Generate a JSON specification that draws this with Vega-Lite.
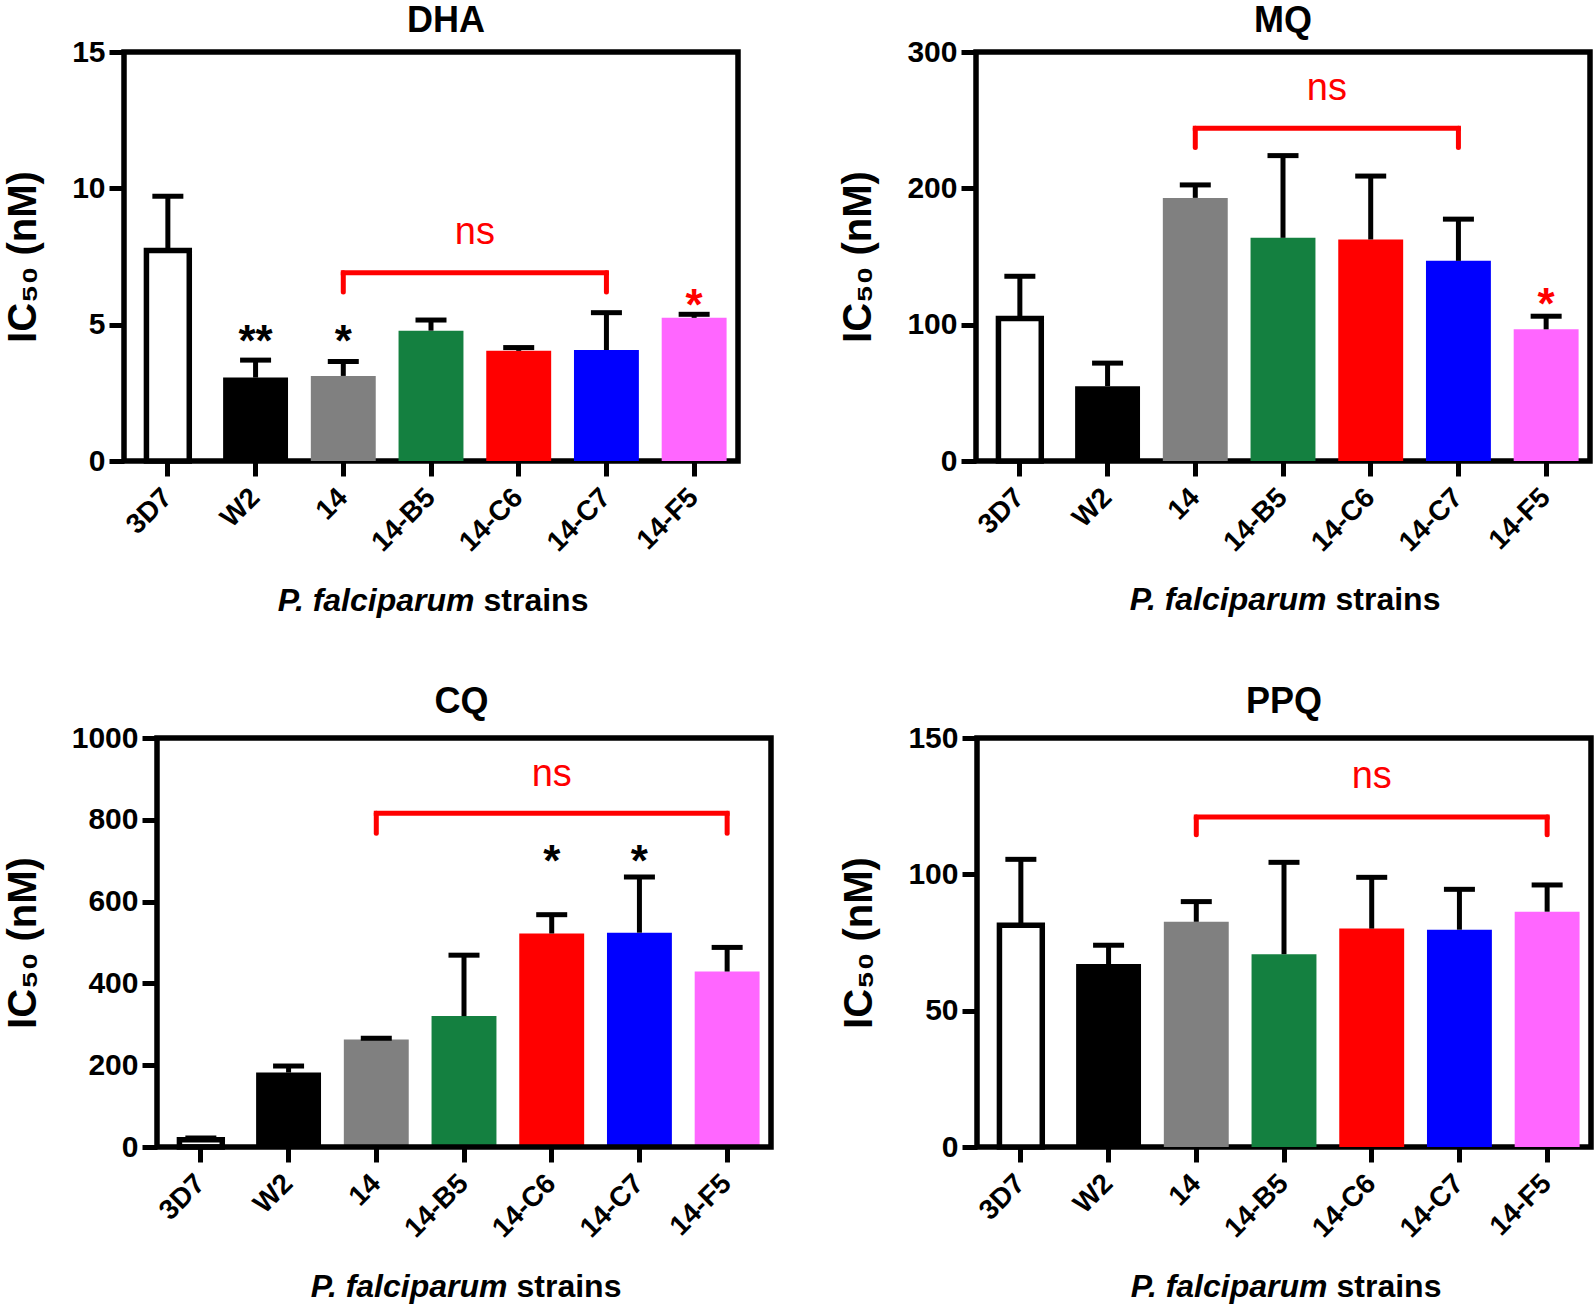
{
  "$schema": "https://vega.github.io/schema/vega-lite/v6.json",
  "background": "white",
  "padding": {"left": 0, "top": 0, "right": 0, "bottom": 0},
  "datasets": {
    "ic50": [
      {"drug": "DHA", "strain": "3D7", "mean": 7.72, "upper": 9.71},
      {"drug": "DHA", "strain": "W2", "mean": 3.06, "upper": 3.70},
      {"drug": "DHA", "strain": "14", "mean": 3.12, "upper": 3.65},
      {"drug": "DHA", "strain": "14-B5", "mean": 4.78, "upper": 5.17},
      {"drug": "DHA", "strain": "14-C6", "mean": 4.04, "upper": 4.16},
      {"drug": "DHA", "strain": "14-C7", "mean": 4.07, "upper": 5.44},
      {"drug": "DHA", "strain": "14-F5", "mean": 5.25, "upper": 5.38},
      {"drug": "MQ", "strain": "3D7", "mean": 104.6, "upper": 135.5},
      {"drug": "MQ", "strain": "W2", "mean": 54.9, "upper": 71.8},
      {"drug": "MQ", "strain": "14", "mean": 193, "upper": 202.5},
      {"drug": "MQ", "strain": "14-B5", "mean": 163.7, "upper": 224},
      {"drug": "MQ", "strain": "14-C6", "mean": 162.5, "upper": 209},
      {"drug": "MQ", "strain": "14-C7", "mean": 146.8, "upper": 177.4},
      {"drug": "MQ", "strain": "14-F5", "mean": 96.6, "upper": 106.2},
      {"drug": "CQ", "strain": "3D7", "mean": 18, "upper": 22},
      {"drug": "CQ", "strain": "W2", "mean": 182, "upper": 198},
      {"drug": "CQ", "strain": "14", "mean": 263, "upper": 266},
      {"drug": "CQ", "strain": "14-B5", "mean": 320, "upper": 469},
      {"drug": "CQ", "strain": "14-C6", "mean": 522, "upper": 568},
      {"drug": "CQ", "strain": "14-C7", "mean": 524, "upper": 660},
      {"drug": "CQ", "strain": "14-F5", "mean": 429, "upper": 488},
      {"drug": "PPQ", "strain": "3D7", "mean": 81.3, "upper": 105.5},
      {"drug": "PPQ", "strain": "W2", "mean": 67.1, "upper": 74},
      {"drug": "PPQ", "strain": "14", "mean": 82.6, "upper": 90},
      {"drug": "PPQ", "strain": "14-B5", "mean": 70.7, "upper": 104.4},
      {"drug": "PPQ", "strain": "14-C6", "mean": 80.1, "upper": 98.9},
      {"drug": "PPQ", "strain": "14-C7", "mean": 79.7, "upper": 94.5},
      {"drug": "PPQ", "strain": "14-F5", "mean": 86.3, "upper": 96.1}
    ],
    "brackets": [
      {"drug": "DHA", "from": "14", "to": "14-C7", "top": 6.9, "bottom": 6.2},
      {"drug": "MQ", "from": "14", "to": "14-C7", "top": 244, "bottom": 230},
      {"drug": "CQ", "from": "14", "to": "14-F5", "top": 816, "bottom": 767},
      {"drug": "PPQ", "from": "14", "to": "14-F5", "top": 121, "bottom": 114.5}
    ],
    "ns": [
      {"drug": "DHA", "strain": "14-B5", "y": 8.35, "label": "ns"},
      {"drug": "MQ", "strain": "14-B5", "y": 273, "label": "ns"},
      {"drug": "CQ", "strain": "14-C6", "y": 909, "label": "ns"},
      {"drug": "PPQ", "strain": "14-C6", "y": 135.8, "label": "ns"}
    ],
    "stars": [
      {"drug": "DHA", "strain": "W2", "y": 4.77, "label": "**", "comparison": "vs 3D7"},
      {"drug": "DHA", "strain": "14", "y": 4.77, "label": "*", "comparison": "vs 3D7"},
      {"drug": "DHA", "strain": "14-F5", "y": 6.09, "label": "*", "comparison": "vs 14"},
      {"drug": "MQ", "strain": "14-F5", "y": 122.6, "label": "*", "comparison": "vs 14"},
      {"drug": "CQ", "strain": "14-C6", "y": 723, "label": "*", "comparison": "vs 3D7"},
      {"drug": "CQ", "strain": "14-C7", "y": 723, "label": "*", "comparison": "vs 3D7"}
    ],
    "xtitles": [
      {"drug": "DHA", "strain": "14-B5", "y": -5.12, "species": "P. falciparum", "word": "strains"},
      {"drug": "MQ", "strain": "14-B5", "y": -102.3, "species": "P. falciparum", "word": "strains"},
      {"drug": "CQ", "strain": "14-B5", "y": -341.1, "species": "P. falciparum", "word": "strains"},
      {"drug": "PPQ", "strain": "14-B5", "y": -51.2, "species": "P. falciparum", "word": "strains"}
    ]
  },
  "spacing": 61,
  "vconcat": [
    {
      "bounds": "full",
      "spacing": 95,
      "hconcat": [
        {
          "width": 614, "height": 409,
          "title": {"text": "DHA", "dx": 15},
          "layer": [
            {"data": {"name": "ic50"}, "transform": [{"filter": "datum.drug === 'DHA' && datum.strain !== '3D7'"}],
             "mark": {"type": "bar"},
             "encoding": {
               "x": {"field": "strain", "type": "nominal", "scale": {"domain": ["3D7", "W2", "14", "14-B5", "14-C6", "14-C7", "14-F5"], "paddingInner": 0.26, "paddingOuter": 0.13}, "axis": {"title": null}},
               "y": {"field": "mean", "type": "quantitative", "scale": {"domain": [0, 15], "nice": false}, "axis": {"values": [0, 5, 10, 15], "format": "d", "title": "IC₅₀ (nM)"}},
               "color": {"field": "strain", "type": "nominal", "scale": {"domain": ["3D7", "W2", "14", "14-B5", "14-C6", "14-C7", "14-F5"], "range": ["#ffffff", "#000000", "#808080", "#148040", "#ff0000", "#0000ff", "#ff66ff"]}, "legend": null}
             }},
            {"data": {"name": "ic50"}, "transform": [{"filter": "datum.drug === 'DHA' && datum.strain === '3D7'"}],
             "mark": {"type": "bar", "fill": "white", "stroke": "black", "strokeWidth": 5.5, "width": {"band": 0.66}},
             "encoding": {"x": {"field": "strain", "type": "nominal"}, "y": {"field": "mean", "type": "quantitative"}}},
            {"data": {"name": "ic50"}, "transform": [{"filter": "datum.drug === 'DHA'"}],
             "mark": {"type": "rule", "color": "black", "strokeWidth": 5},
             "encoding": {"x": {"field": "strain", "type": "nominal"}, "y": {"field": "mean", "type": "quantitative"}, "y2": {"field": "upper"}}},
            {"data": {"name": "ic50"}, "transform": [{"filter": "datum.drug === 'DHA'"}],
             "mark": {"type": "tick", "color": "black", "size": 31, "thickness": 5, "opacity": 1},
             "encoding": {"x": {"field": "strain", "type": "nominal"}, "y": {"field": "upper", "type": "quantitative"}}},
            {"data": {"name": "brackets"}, "transform": [{"filter": "datum.drug === 'DHA'"}],
             "mark": {"type": "rule", "color": "#ff0000", "strokeWidth": 5, "strokeCap": "square"},
             "encoding": {"x": {"field": "from", "type": "nominal"}, "x2": {"field": "to"}, "y": {"field": "top", "type": "quantitative"}}},
            {"data": {"name": "brackets"}, "transform": [{"filter": "datum.drug === 'DHA'"}],
             "mark": {"type": "rule", "color": "#ff0000", "strokeWidth": 5, "strokeCap": "round"},
             "encoding": {"x": {"field": "from", "type": "nominal"}, "y": {"field": "top", "type": "quantitative"}, "y2": {"field": "bottom"}}},
            {"data": {"name": "brackets"}, "transform": [{"filter": "datum.drug === 'DHA'"}],
             "mark": {"type": "rule", "color": "#ff0000", "strokeWidth": 5, "strokeCap": "round"},
             "encoding": {"x": {"field": "to", "type": "nominal"}, "y": {"field": "top", "type": "quantitative"}, "y2": {"field": "bottom"}}},
            {"data": {"name": "ns"}, "transform": [{"filter": "datum.drug === 'DHA'"}],
             "mark": {"type": "text", "color": "#ff0000", "fontSize": 38, "font": "Liberation Sans", "baseline": "middle", "align": "center"},
             "encoding": {"x": {"field": "strain", "type": "nominal", "bandPosition": 1.176}, "y": {"field": "y", "type": "quantitative"}, "text": {"field": "label"}}},
            {"data": {"name": "stars"}, "transform": [{"filter": "datum.drug === 'DHA'"}],
             "mark": {"type": "text", "fontSize": 44, "fontWeight": "bold", "font": "Liberation Sans", "baseline": "alphabetic", "align": "center", "dy": 25},
             "encoding": {"x": {"field": "strain", "type": "nominal"}, "y": {"field": "y", "type": "quantitative"}, "text": {"field": "label"},
               "color": {"field": "comparison", "type": "nominal", "scale": {"domain": ["vs 3D7", "vs 14"], "range": ["#000000", "#ff0000"]}, "legend": null}}},
            {"data": {"name": "xtitles"}, "transform": [{"filter": "datum.drug === 'DHA'"}],
             "mark": {"type": "text", "fontSize": 32, "fontWeight": "bold", "fontStyle": "italic", "font": "Liberation Sans", "baseline": "middle", "align": "right", "color": "black"},
             "encoding": {"x": {"field": "strain", "type": "nominal", "bandPosition": 1.17}, "y": {"field": "y", "type": "quantitative"}, "text": {"field": "species"}}},
            {"data": {"name": "xtitles"}, "transform": [{"filter": "datum.drug === 'DHA'"}],
             "mark": {"type": "text", "fontSize": 32, "fontWeight": "bold", "font": "Liberation Sans", "baseline": "middle", "align": "left", "color": "black", "dx": 9},
             "encoding": {"x": {"field": "strain", "type": "nominal", "bandPosition": 1.17}, "y": {"field": "y", "type": "quantitative"}, "text": {"field": "word"}}}
          ],
          "resolve": {"scale": {"color": "independent"}}
        },
        {
          "width": 614, "height": 409,
          "title": {"text": "MQ"},
          "layer": [
            {"data": {"name": "ic50"}, "transform": [{"filter": "datum.drug === 'MQ' && datum.strain !== '3D7'"}],
             "mark": {"type": "bar"},
             "encoding": {
               "x": {"field": "strain", "type": "nominal", "scale": {"domain": ["3D7", "W2", "14", "14-B5", "14-C6", "14-C7", "14-F5"], "paddingInner": 0.26, "paddingOuter": 0.13}, "axis": {"title": null}},
               "y": {"field": "mean", "type": "quantitative", "scale": {"domain": [0, 300], "nice": false}, "axis": {"values": [0, 100, 200, 300], "format": "d", "title": "IC₅₀ (nM)"}},
               "color": {"field": "strain", "type": "nominal", "scale": {"domain": ["3D7", "W2", "14", "14-B5", "14-C6", "14-C7", "14-F5"], "range": ["#ffffff", "#000000", "#808080", "#148040", "#ff0000", "#0000ff", "#ff66ff"]}, "legend": null}
             }},
            {"data": {"name": "ic50"}, "transform": [{"filter": "datum.drug === 'MQ' && datum.strain === '3D7'"}],
             "mark": {"type": "bar", "fill": "white", "stroke": "black", "strokeWidth": 5.5, "width": {"band": 0.66}},
             "encoding": {"x": {"field": "strain", "type": "nominal"}, "y": {"field": "mean", "type": "quantitative"}}},
            {"data": {"name": "ic50"}, "transform": [{"filter": "datum.drug === 'MQ'"}],
             "mark": {"type": "rule", "color": "black", "strokeWidth": 5},
             "encoding": {"x": {"field": "strain", "type": "nominal"}, "y": {"field": "mean", "type": "quantitative"}, "y2": {"field": "upper"}}},
            {"data": {"name": "ic50"}, "transform": [{"filter": "datum.drug === 'MQ'"}],
             "mark": {"type": "tick", "color": "black", "size": 31, "thickness": 5, "opacity": 1},
             "encoding": {"x": {"field": "strain", "type": "nominal"}, "y": {"field": "upper", "type": "quantitative"}}},
            {"data": {"name": "brackets"}, "transform": [{"filter": "datum.drug === 'MQ'"}],
             "mark": {"type": "rule", "color": "#ff0000", "strokeWidth": 5, "strokeCap": "square"},
             "encoding": {"x": {"field": "from", "type": "nominal"}, "x2": {"field": "to"}, "y": {"field": "top", "type": "quantitative"}}},
            {"data": {"name": "brackets"}, "transform": [{"filter": "datum.drug === 'MQ'"}],
             "mark": {"type": "rule", "color": "#ff0000", "strokeWidth": 5, "strokeCap": "round"},
             "encoding": {"x": {"field": "from", "type": "nominal"}, "y": {"field": "top", "type": "quantitative"}, "y2": {"field": "bottom"}}},
            {"data": {"name": "brackets"}, "transform": [{"filter": "datum.drug === 'MQ'"}],
             "mark": {"type": "rule", "color": "#ff0000", "strokeWidth": 5, "strokeCap": "round"},
             "encoding": {"x": {"field": "to", "type": "nominal"}, "y": {"field": "top", "type": "quantitative"}, "y2": {"field": "bottom"}}},
            {"data": {"name": "ns"}, "transform": [{"filter": "datum.drug === 'MQ'"}],
             "mark": {"type": "text", "color": "#ff0000", "fontSize": 38, "font": "Liberation Sans", "baseline": "middle", "align": "center"},
             "encoding": {"x": {"field": "strain", "type": "nominal", "bandPosition": 1.176}, "y": {"field": "y", "type": "quantitative"}, "text": {"field": "label"}}},
            {"data": {"name": "stars"}, "transform": [{"filter": "datum.drug === 'MQ'"}],
             "mark": {"type": "text", "fontSize": 44, "fontWeight": "bold", "font": "Liberation Sans", "baseline": "alphabetic", "align": "center", "dy": 25},
             "encoding": {"x": {"field": "strain", "type": "nominal"}, "y": {"field": "y", "type": "quantitative"}, "text": {"field": "label"},
               "color": {"field": "comparison", "type": "nominal", "scale": {"domain": ["vs 3D7", "vs 14"], "range": ["#000000", "#ff0000"]}, "legend": null}}},
            {"data": {"name": "xtitles"}, "transform": [{"filter": "datum.drug === 'MQ'"}],
             "mark": {"type": "text", "fontSize": 32, "fontWeight": "bold", "fontStyle": "italic", "font": "Liberation Sans", "baseline": "middle", "align": "right", "color": "black"},
             "encoding": {"x": {"field": "strain", "type": "nominal", "bandPosition": 1.17}, "y": {"field": "y", "type": "quantitative"}, "text": {"field": "species"}}},
            {"data": {"name": "xtitles"}, "transform": [{"filter": "datum.drug === 'MQ'"}],
             "mark": {"type": "text", "fontSize": 32, "fontWeight": "bold", "font": "Liberation Sans", "baseline": "middle", "align": "left", "color": "black", "dx": 9},
             "encoding": {"x": {"field": "strain", "type": "nominal", "bandPosition": 1.17}, "y": {"field": "y", "type": "quantitative"}, "text": {"field": "word"}}}
          ],
          "resolve": {"scale": {"color": "independent"}}
        }
      ]
    },
    {
      "bounds": "full",
      "spacing": 63,
      "hconcat": [
        {
          "width": 647, "height": 409,
          "view": {"stroke": null},
          "title": {"text": "CQ", "dx": 14, "offset": 2},
          "layer": [
            {"data": {"name": "ic50"}, "transform": [{"filter": "datum.drug === 'CQ' && datum.strain !== '3D7'"}],
             "mark": {"type": "bar"},
             "encoding": {
               "x": {"field": "strain", "type": "nominal", "scale": {"domain": ["3D7", "W2", "14", "14-B5", "14-C6", "14-C7", "14-F5"], "range": [33, 647], "paddingInner": 0.26, "paddingOuter": 0.13}, "axis": {"title": null}},
               "y": {"field": "mean", "type": "quantitative", "scale": {"domain": [0, 1000], "nice": false}, "axis": {"values": [0, 200, 400, 600, 800, 1000], "format": "d", "offset": -33, "title": "IC₅₀ (nM)"}},
               "color": {"field": "strain", "type": "nominal", "scale": {"domain": ["3D7", "W2", "14", "14-B5", "14-C6", "14-C7", "14-F5"], "range": ["#ffffff", "#000000", "#808080", "#148040", "#ff0000", "#0000ff", "#ff66ff"]}, "legend": null}
             }},
            {"data": {"name": "ic50"}, "transform": [{"filter": "datum.drug === 'CQ' && datum.strain === '3D7'"}],
             "mark": {"type": "bar", "fill": "white", "stroke": "black", "strokeWidth": 5.5, "width": {"band": 0.66}},
             "encoding": {"x": {"field": "strain", "type": "nominal"}, "y": {"field": "mean", "type": "quantitative"}}},
            {"data": {"name": "ic50"}, "transform": [{"filter": "datum.drug === 'CQ'"}],
             "mark": {"type": "rule", "color": "black", "strokeWidth": 5},
             "encoding": {"x": {"field": "strain", "type": "nominal"}, "y": {"field": "mean", "type": "quantitative"}, "y2": {"field": "upper"}}},
            {"data": {"name": "ic50"}, "transform": [{"filter": "datum.drug === 'CQ'"}],
             "mark": {"type": "tick", "color": "black", "size": 31, "thickness": 5, "opacity": 1},
             "encoding": {"x": {"field": "strain", "type": "nominal"}, "y": {"field": "upper", "type": "quantitative"}}},
            {"data": {"name": "brackets"}, "transform": [{"filter": "datum.drug === 'CQ'"}],
             "mark": {"type": "rule", "color": "#ff0000", "strokeWidth": 5, "strokeCap": "square"},
             "encoding": {"x": {"field": "from", "type": "nominal"}, "x2": {"field": "to"}, "y": {"field": "top", "type": "quantitative"}}},
            {"data": {"name": "brackets"}, "transform": [{"filter": "datum.drug === 'CQ'"}],
             "mark": {"type": "rule", "color": "#ff0000", "strokeWidth": 5, "strokeCap": "round"},
             "encoding": {"x": {"field": "from", "type": "nominal"}, "y": {"field": "top", "type": "quantitative"}, "y2": {"field": "bottom"}}},
            {"data": {"name": "brackets"}, "transform": [{"filter": "datum.drug === 'CQ'"}],
             "mark": {"type": "rule", "color": "#ff0000", "strokeWidth": 5, "strokeCap": "round"},
             "encoding": {"x": {"field": "to", "type": "nominal"}, "y": {"field": "top", "type": "quantitative"}, "y2": {"field": "bottom"}}},
            {"data": {"name": "ns"}, "transform": [{"filter": "datum.drug === 'CQ'"}],
             "mark": {"type": "text", "color": "#ff0000", "fontSize": 38, "font": "Liberation Sans", "baseline": "middle", "align": "center"},
             "encoding": {"x": {"field": "strain", "type": "nominal"}, "y": {"field": "y", "type": "quantitative"}, "text": {"field": "label"}}},
            {"data": {"name": "stars"}, "transform": [{"filter": "datum.drug === 'CQ'"}],
             "mark": {"type": "text", "fontSize": 44, "fontWeight": "bold", "font": "Liberation Sans", "baseline": "alphabetic", "align": "center", "dy": 25},
             "encoding": {"x": {"field": "strain", "type": "nominal"}, "y": {"field": "y", "type": "quantitative"}, "text": {"field": "label"},
               "color": {"field": "comparison", "type": "nominal", "scale": {"domain": ["vs 3D7", "vs 14"], "range": ["#000000", "#ff0000"]}, "legend": null}}},
            {"data": {"name": "xtitles"}, "transform": [{"filter": "datum.drug === 'CQ'"}],
             "mark": {"type": "text", "fontSize": 32, "fontWeight": "bold", "fontStyle": "italic", "font": "Liberation Sans", "baseline": "middle", "align": "right", "color": "black"},
             "encoding": {"x": {"field": "strain", "type": "nominal", "bandPosition": 1.17}, "y": {"field": "y", "type": "quantitative"}, "text": {"field": "species"}}},
            {"data": {"name": "xtitles"}, "transform": [{"filter": "datum.drug === 'CQ'"}],
             "mark": {"type": "text", "fontSize": 32, "fontWeight": "bold", "font": "Liberation Sans", "baseline": "middle", "align": "left", "color": "black", "dx": 9},
             "encoding": {"x": {"field": "strain", "type": "nominal", "bandPosition": 1.17}, "y": {"field": "y", "type": "quantitative"}, "text": {"field": "word"}}},
            {"data": {"name": "brackets"}, "transform": [{"filter": "datum.drug === 'CQ'"}],
             "mark": {"type": "rect", "fill": null, "fillOpacity": 0, "stroke": "black", "strokeWidth": 5.5},
             "encoding": {
               "x": {"datum": "3D7", "type": "nominal", "bandPosition": -0.17568},
               "x2": {"datum": "14-F5", "bandPosition": 1.17568},
               "y": {"datum": 0, "type": "quantitative"},
               "y2": {"datum": 1000}
             }}
          ],
          "resolve": {"scale": {"color": "independent"}}
        },
        {
          "width": 614, "height": 409,
          "title": {"text": "PPQ", "offset": 2},
          "layer": [
            {"data": {"name": "ic50"}, "transform": [{"filter": "datum.drug === 'PPQ' && datum.strain !== '3D7'"}],
             "mark": {"type": "bar"},
             "encoding": {
               "x": {"field": "strain", "type": "nominal", "scale": {"domain": ["3D7", "W2", "14", "14-B5", "14-C6", "14-C7", "14-F5"], "paddingInner": 0.26, "paddingOuter": 0.13}, "axis": {"title": null}},
               "y": {"field": "mean", "type": "quantitative", "scale": {"domain": [0, 150], "nice": false}, "axis": {"values": [0, 50, 100, 150], "format": "d", "title": "IC₅₀ (nM)"}},
               "color": {"field": "strain", "type": "nominal", "scale": {"domain": ["3D7", "W2", "14", "14-B5", "14-C6", "14-C7", "14-F5"], "range": ["#ffffff", "#000000", "#808080", "#148040", "#ff0000", "#0000ff", "#ff66ff"]}, "legend": null}
             }},
            {"data": {"name": "ic50"}, "transform": [{"filter": "datum.drug === 'PPQ' && datum.strain === '3D7'"}],
             "mark": {"type": "bar", "fill": "white", "stroke": "black", "strokeWidth": 5.5, "width": {"band": 0.66}},
             "encoding": {"x": {"field": "strain", "type": "nominal"}, "y": {"field": "mean", "type": "quantitative"}}},
            {"data": {"name": "ic50"}, "transform": [{"filter": "datum.drug === 'PPQ'"}],
             "mark": {"type": "rule", "color": "black", "strokeWidth": 5},
             "encoding": {"x": {"field": "strain", "type": "nominal"}, "y": {"field": "mean", "type": "quantitative"}, "y2": {"field": "upper"}}},
            {"data": {"name": "ic50"}, "transform": [{"filter": "datum.drug === 'PPQ'"}],
             "mark": {"type": "tick", "color": "black", "size": 31, "thickness": 5, "opacity": 1},
             "encoding": {"x": {"field": "strain", "type": "nominal"}, "y": {"field": "upper", "type": "quantitative"}}},
            {"data": {"name": "brackets"}, "transform": [{"filter": "datum.drug === 'PPQ'"}],
             "mark": {"type": "rule", "color": "#ff0000", "strokeWidth": 5, "strokeCap": "square"},
             "encoding": {"x": {"field": "from", "type": "nominal"}, "x2": {"field": "to"}, "y": {"field": "top", "type": "quantitative"}}},
            {"data": {"name": "brackets"}, "transform": [{"filter": "datum.drug === 'PPQ'"}],
             "mark": {"type": "rule", "color": "#ff0000", "strokeWidth": 5, "strokeCap": "round"},
             "encoding": {"x": {"field": "from", "type": "nominal"}, "y": {"field": "top", "type": "quantitative"}, "y2": {"field": "bottom"}}},
            {"data": {"name": "brackets"}, "transform": [{"filter": "datum.drug === 'PPQ'"}],
             "mark": {"type": "rule", "color": "#ff0000", "strokeWidth": 5, "strokeCap": "round"},
             "encoding": {"x": {"field": "to", "type": "nominal"}, "y": {"field": "top", "type": "quantitative"}, "y2": {"field": "bottom"}}},
            {"data": {"name": "ns"}, "transform": [{"filter": "datum.drug === 'PPQ'"}],
             "mark": {"type": "text", "color": "#ff0000", "fontSize": 38, "font": "Liberation Sans", "baseline": "middle", "align": "center"},
             "encoding": {"x": {"field": "strain", "type": "nominal"}, "y": {"field": "y", "type": "quantitative"}, "text": {"field": "label"}}},
            {"data": {"name": "xtitles"}, "transform": [{"filter": "datum.drug === 'PPQ'"}],
             "mark": {"type": "text", "fontSize": 32, "fontWeight": "bold", "fontStyle": "italic", "font": "Liberation Sans", "baseline": "middle", "align": "right", "color": "black"},
             "encoding": {"x": {"field": "strain", "type": "nominal", "bandPosition": 1.17}, "y": {"field": "y", "type": "quantitative"}, "text": {"field": "species"}}},
            {"data": {"name": "xtitles"}, "transform": [{"filter": "datum.drug === 'PPQ'"}],
             "mark": {"type": "text", "fontSize": 32, "fontWeight": "bold", "font": "Liberation Sans", "baseline": "middle", "align": "left", "color": "black", "dx": 9},
             "encoding": {"x": {"field": "strain", "type": "nominal", "bandPosition": 1.17}, "y": {"field": "y", "type": "quantitative"}, "text": {"field": "word"}}}
          ]
        }
      ]
    }
  ],
  "config": {
    "font": "Liberation Sans",
    "view": {"stroke": "black", "strokeWidth": 5.5},
    "axis": {
      "domain": false, "grid": false, "ticks": true,
      "tickColor": "black", "tickWidth": 5, "tickSize": 15,
      "labelFont": "Liberation Sans", "labelFontWeight": "bold", "labelColor": "black",
      "titleFont": "Liberation Sans", "titleFontWeight": "bold", "titleColor": "black"
    },
    "axisX": {"labelAngle": -45, "labelAlign": "right", "labelBaseline": "middle", "labelFontSize": 28, "labelPadding": 17},
    "axisY": {"labelFontSize": 30, "titleFontSize": 40, "titlePadding": 28, "labelPadding": 4},
    "title": {"fontSize": 36, "fontWeight": "bold", "font": "Liberation Sans", "color": "black", "frame": "group", "anchor": "middle", "offset": -3}
  }
}
